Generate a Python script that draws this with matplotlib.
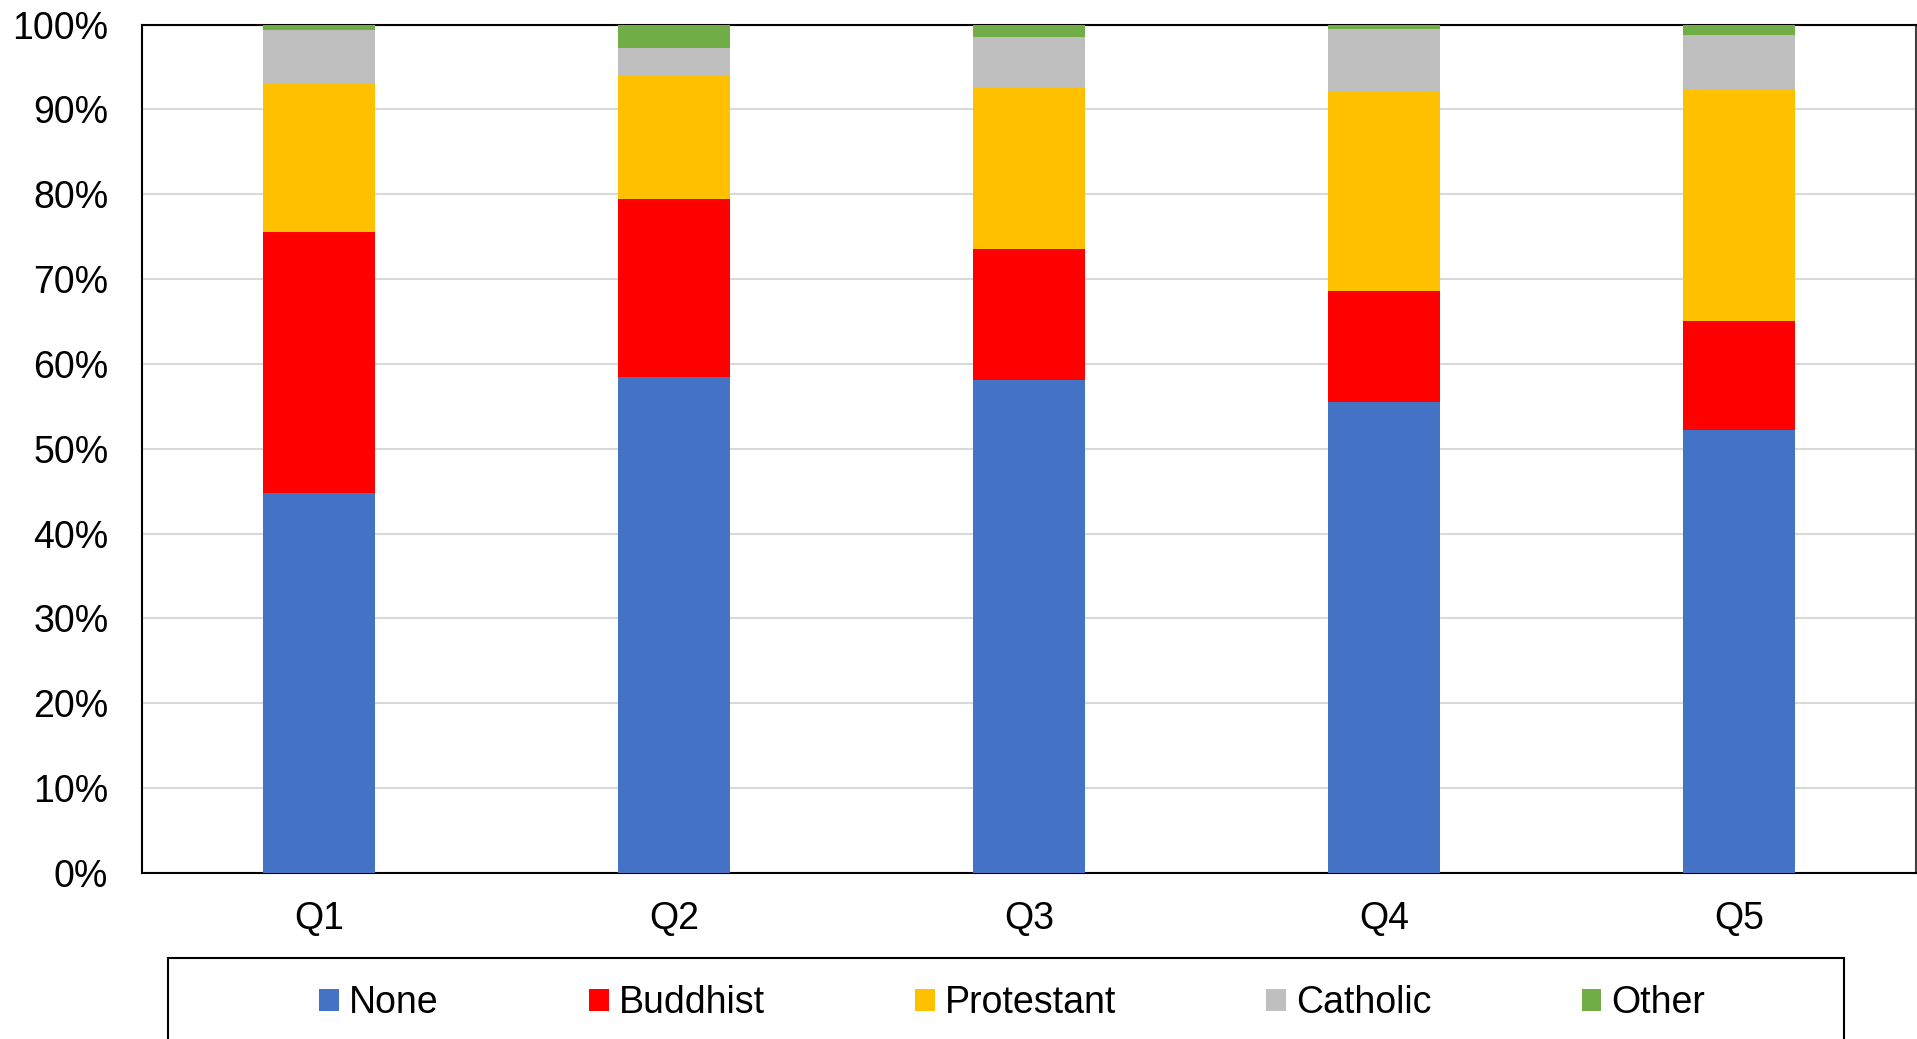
import matplotlib
matplotlib.use('Agg')
import matplotlib.pyplot as plt
from matplotlib.patches import Rectangle
import numpy as np

plt.rcParams['font.family'] = ['Liberation Sans', 'DejaVu Sans']

groups = ["Q1", "Q2", "Q3", "Q4", "Q5"]
religions = ["None", "Buddhist", "Protestant", "Catholic", "Other"]
colors = ["#4472C4", "#FF0000", "#FFC000", "#BFBFBF", "#70AD47"]

none_ = [44.8, 58.5, 58.1, 55.5, 52.2]
buddhist = [30.8, 20.9, 15.4, 13.1, 12.9]
protestant = [17.5, 14.5, 19.0, 23.4, 27.3]
catholic = [6.2, 3.3, 6.0, 7.5, 6.4]
other = [0.7, 2.8, 1.5, 0.5, 1.2]

series = [none_, buddhist, protestant, catholic, other]

fig = plt.figure(figsize=(19.17, 10.39), dpi=100)
ax = fig.add_axes([0.0739, 0.1598, 0.9258, 0.8166])

x = np.arange(len(groups))
bottom = np.zeros(len(groups))
for name, vals, c in zip(religions, series, colors):
    ax.bar(x, vals, 0.317, bottom=bottom, color=c, label=name, zorder=3)
    bottom += np.array(vals)

ax.set_xlim(-0.5, 4.5)
ax.set_ylim(0, 100)
ax.set_yticks(range(0, 101, 10))
ax.set_yticklabels([f"{v}%" for v in range(0, 101, 10)])
ax.set_xticks(x)
ax.set_xticklabels(groups)
ax.tick_params(axis='y', length=0, pad=24, labelsize=27)
ax.tick_params(axis='x', length=0, pad=20, labelsize=27)
ax.grid(axis='y', color='#D9D9D9', linewidth=1.5, zorder=0)
for s in ax.spines.values():
    s.set_color('black')
    s.set_linewidth(1.5)
ax.spines['right'].set_color('#404040')

# legend box (runs past the bottom of the figure)
fig.patches.append(Rectangle((167.5 / 1917, -0.05), (1844 - 167.5) / 1917, (1039 - 958) / 1039 + 0.05,
                             transform=fig.transFigure, fill=False, edgecolor='black',
                             linewidth=1.5))
fig.legend(loc='center', bbox_to_anchor=(0.528, 1 - 1003 / 1039), ncol=5, frameon=False,
           fontsize=27, handlelength=0.53, handleheight=0.53, handletextpad=0.27,
           columnspacing=4.0)

fig.savefig('out.png', dpi=100)
